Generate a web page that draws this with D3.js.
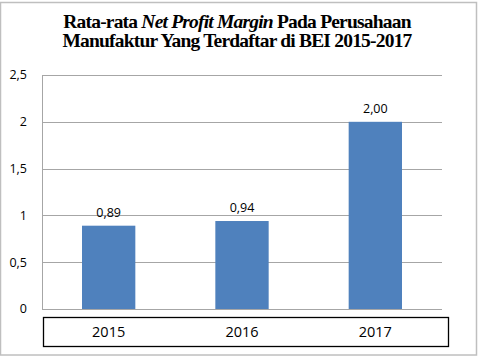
<!DOCTYPE html>
<html>
<head>
<meta charset="utf-8">
<script src="https://cdn.jsdelivr.net/npm/d3@7"></script>
<style>
  body { margin: 0; background: #fff; }
  svg { display: block; }
</style>
</head>
<body>
<svg id="chart"></svg>
<script>
const years = ['2015', '2016', '2017'];
const npm = [0.89, 0.94, 2.00];
const yTicks = [0, 0.5, 1, 1.5, 2, 2.5];

const width = 485, height = 362;
const plot = {left: 42, right: 442, top: 75, bottom: 309};

const svg = d3.select('#chart')
    .attr('width', width)
    .attr('height', height);

// outer frame
svg.append('rect')
    .attr('x', 0.5).attr('y', 2.5)
    .attr('width', 476).attr('height', 352.5)
    .attr('fill', '#fff')
    .attr('stroke', '#bfbfbf')
    .attr('stroke-width', 1.5);

// title
const title = svg.append('text')
    .attr('text-anchor', 'middle')
    .attr('font-family', 'Liberation Serif, serif')
    .attr('font-weight', 'bold')
    .attr('font-size', 19.5)
    .attr('letter-spacing', -0.8)
    .attr('fill', '#000');
const l1 = title.append('tspan').attr('x', 237).attr('y', 28);
l1.append('tspan').text('Rata-rata ');
l1.append('tspan').attr('font-style', 'italic').text('Net Profit Margin');
l1.append('tspan').text(' Pada Perusahaan');
title.append('tspan').attr('x', 237).attr('y', 47)
    .text('Manufaktur Yang Terdaftar di BEI 2015-2017');

const x = d3.scaleBand()
    .domain(years)
    .range([plot.left, plot.right])
    .paddingInner(0.6)
    .paddingOuter(0.3);

const y = d3.scaleLinear()
    .domain([0, 2.5])
    .range([plot.bottom, plot.top]);

const fmt = v => String(v).replace('.', ',');

// gridlines
svg.append('g')
    .selectAll('line')
    .data(yTicks)
    .join('line')
    .attr('x1', plot.left).attr('x2', plot.right)
    .attr('y1', d => Math.round(y(d)) + 0.5)
    .attr('y2', d => Math.round(y(d)) + 0.5)
    .attr('stroke', '#a6a6a6')
    .attr('stroke-width', 1);

// y axis line
svg.append('line')
    .attr('x1', plot.left + 0.5).attr('x2', plot.left + 0.5)
    .attr('y1', plot.top).attr('y2', plot.bottom)
    .attr('stroke', '#a6a6a6');

// y tick labels
svg.append('g')
    .selectAll('text')
    .data(yTicks)
    .join('text')
    .attr('x', 27)
    .attr('y', d => y(d))
    .attr('dy', '0.35em')
    .attr('text-anchor', 'end')
    .attr('font-family', 'Open Sans, sans-serif')
    .attr('font-size', 12.5)
    .attr('fill', '#000')
    .text(fmt);

// bars
svg.append('g')
    .selectAll('rect')
    .data(npm)
    .join('rect')
    .attr('x', (d, i) => x(years[i]))
    .attr('y', d => y(d))
    .attr('width', x.bandwidth())
    .attr('height', d => y(0) - y(d))
    .attr('fill', '#4f81bd');

// value labels
svg.append('g')
    .selectAll('text')
    .data(npm)
    .join('text')
    .attr('x', (d, i) => x(years[i]) + x.bandwidth() / 2)
    .attr('y', d => y(d) - 9)
    .attr('text-anchor', 'middle')
    .attr('font-family', 'Open Sans, sans-serif')
    .attr('font-size', 12.5)
    .attr('fill', '#000')
    .text(d => d.toFixed(2).replace('.', ','));

// category axis box
svg.append('rect')
    .attr('x', 43.5).attr('y', 317.5)
    .attr('width', 405).attr('height', 29)
    .attr('fill', 'none')
    .attr('stroke', '#000')
    .attr('stroke-width', 1.3);

svg.append('g')
    .selectAll('text')
    .data(years)
    .join('text')
    .attr('x', d => x(d) + x.bandwidth() / 2)
    .attr('y', 332)
    .attr('dy', '0.35em')
    .attr('text-anchor', 'middle')
    .attr('font-family', 'Open Sans, sans-serif')
    .attr('font-size', 14.5)
    .attr('fill', '#000')
    .text(d => d);
</script>
</body>
</html>
